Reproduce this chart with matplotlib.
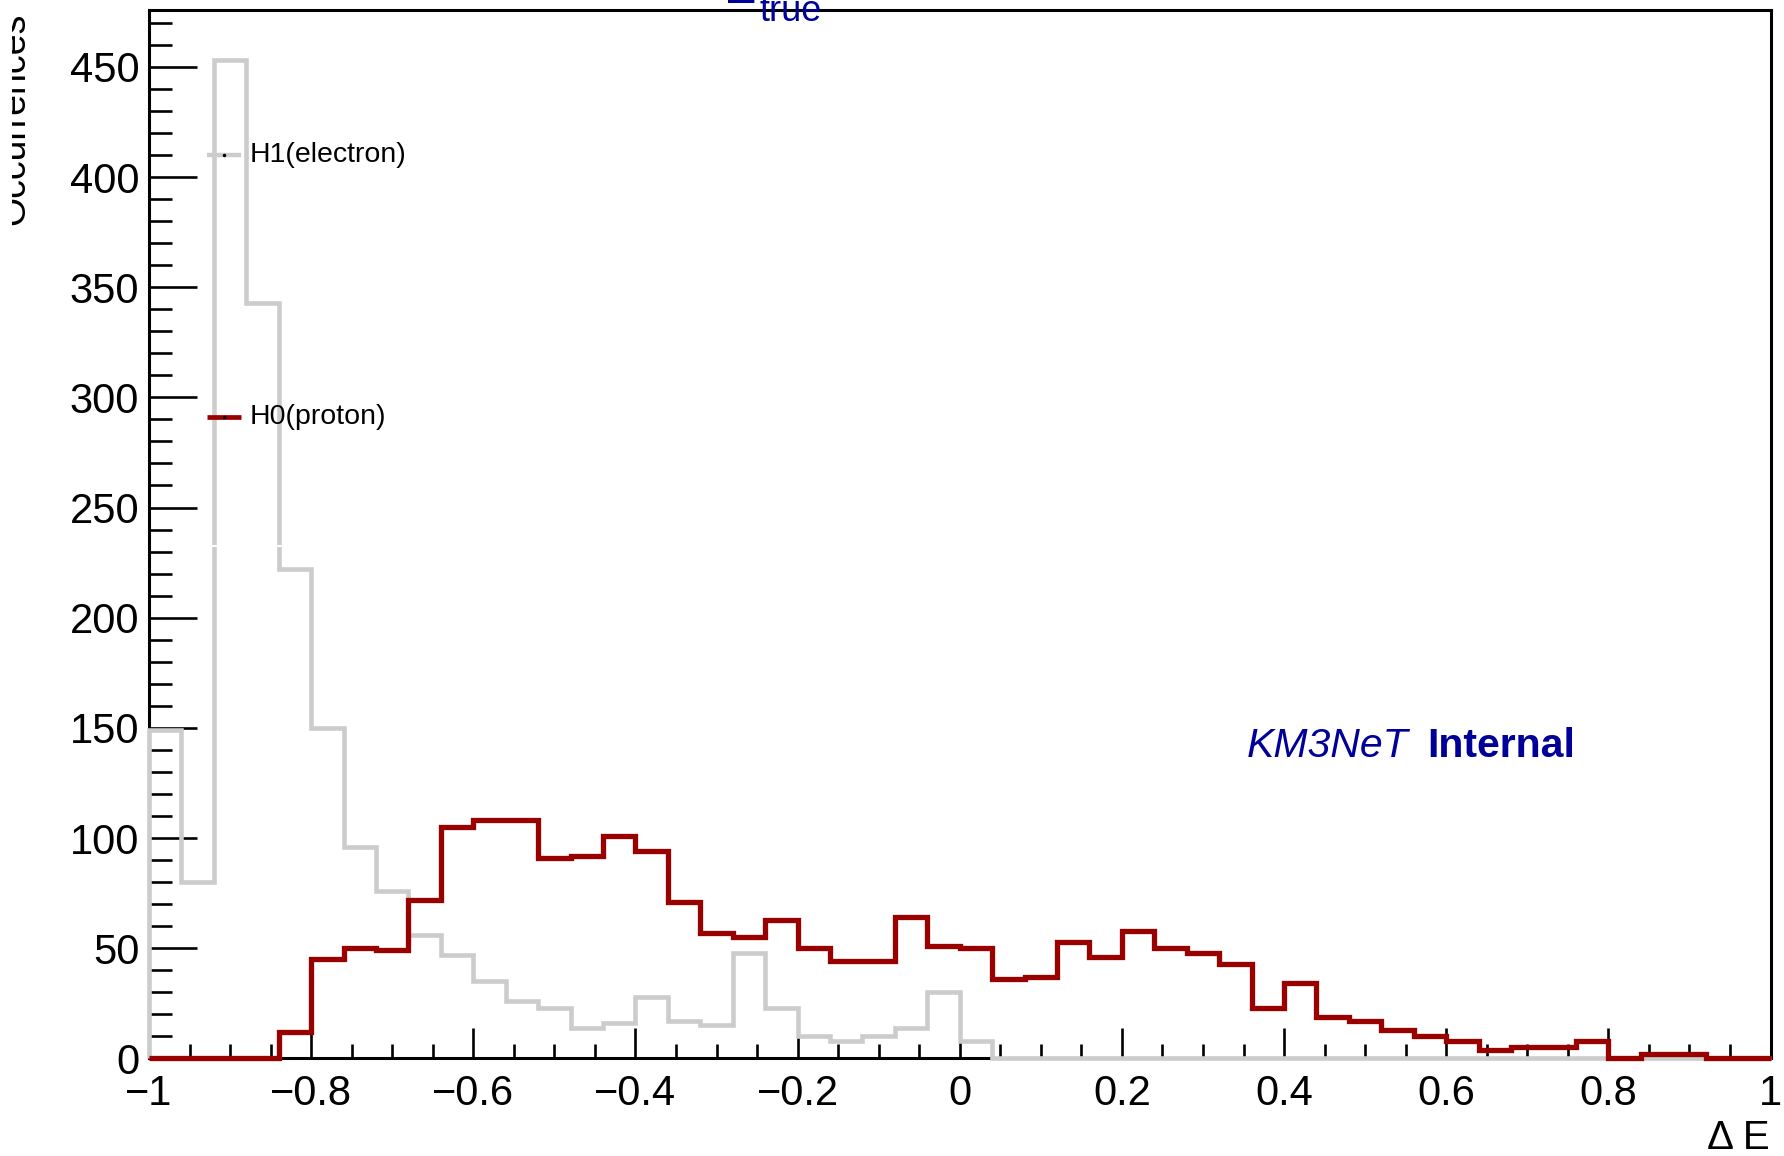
import matplotlib
matplotlib.use('Agg')
import matplotlib.pyplot as plt
import numpy as np
from matplotlib.ticker import MultipleLocator, FixedLocator, FixedFormatter
from matplotlib.patches import Rectangle

plt.rcParams['font.family'] = ['Liberation Sans', 'DejaVu Sans']

# ---------------- data ----------------
x_min, x_max, n_bins = -1.0, 1.0, 50

electron_counts = [149, 80, 453, 343, 222, 150, 96, 76, 56, 47,
                   35, 26, 23, 14, 16, 28, 17, 15, 48, 23,
                   10, 8, 10, 14, 30, 8, 0, 0, 0, 0,
                   0, 0, 0, 0, 0, 0, 0, 0, 0, 0,
                   0, 0, 0, 0, 0, 0, 0, 0, 0, 0]

proton_counts = [0, 0, 0, 0, 12, 45, 50, 49, 72, 105,
                 108, 108, 91, 92, 101, 94, 71, 57, 55, 63,
                 50, 44, 44, 64, 51, 50, 36, 37, 53, 46,
                 58, 50, 48, 43, 23, 34, 19, 17, 13, 10,
                 8, 4, 5, 5, 8, 0, 2, 2, 0, 0]

x_ticks = [-1, -0.8, -0.6, -0.4, -0.2, 0, 0.2, 0.4, 0.6, 0.8, 1]
x_tick_labels = ['\u22121', '\u22120.8', '\u22120.6', '\u22120.4', '\u22120.2',
                 '0', '0.2', '0.4', '0.6', '0.8', '1']
y_ticks = [0, 50, 100, 150, 200, 250, 300, 350, 400, 450]
y_max = 475.7

label_electron = 'H1(electron)'
label_proton = 'H0(proton)'

# ---------------- style ----------------
W, H = 1784, 1156
gray = '#cccccc'
red = '#990000'
blue = '#000099'

fig = plt.figure(figsize=(W / 100, H / 100), dpi=100)
left, right, bottom, top = 149, 1770.5, 1058.4, 10.2
ax = fig.add_axes([left / W, (H - bottom) / H, (right - left) / W, (bottom - top) / H])

edges = np.linspace(x_min, x_max, n_bins + 1)
ax.stairs(electron_counts, edges, color=gray, lw=3.3, zorder=3, clip_on=False)
ax.stairs(proton_counts, edges, color=red, lw=3.8, zorder=4, clip_on=False)

ax.set_xlim(x_min, x_max)
ax.set_ylim(0, y_max)

ax.xaxis.set_major_locator(FixedLocator(x_ticks))
ax.xaxis.set_major_formatter(FixedFormatter(x_tick_labels))
ax.xaxis.set_minor_locator(MultipleLocator(0.05))
ax.yaxis.set_major_locator(FixedLocator(y_ticks))
ax.yaxis.set_minor_locator(MultipleLocator(10))

ax.tick_params(axis='y', which='major', direction='in', length=34.5, width=1.9,
               labelsize=30, pad=7)
ax.tick_params(axis='y', which='minor', direction='in', length=16.5, width=1.9)
ax.tick_params(axis='x', which='major', direction='in', length=21.6, width=1.9,
               labelsize=30, pad=11)
ax.tick_params(axis='x', which='minor', direction='in', length=10, width=1.9)
for s in ax.spines.values():
    s.set_linewidth(2.2)

# legend-like entries
ax.plot([-0.928, -0.886], [410, 410], color=gray, lw=3.2, zorder=5, solid_capstyle='butt')
ax.plot([-0.9075], [410], marker='o', color='k', ms=1.5, zorder=6)
ax.text(-0.8754, 410, label_electron, va='center', ha='left', fontsize=20.5, zorder=6)
ax.plot([-0.928, -0.886], [291.3, 291.3], color=red, lw=3.4, zorder=5, solid_capstyle='butt')
ax.plot([-0.9075], [291.3], marker='o', color='k', ms=1.5, zorder=6)
ax.text(-0.8754, 291.3, label_proton, va='center', ha='left', fontsize=20.5, zorder=6)
# legend box bottom edge (white) interrupting the gray outline
ax.plot([-0.97, -0.55], [232.4, 232.4], color='white', lw=1.4, zorder=5)

# KM3NeT Internal
ax.text(0.354, 136.8, 'KM3NeT', style='italic', fontsize=29.5, color=blue,
        va='baseline', ha='left')
ax.text(0.577, 136.8, 'Internal', weight='bold', fontsize=29.5, color=blue,
        va='baseline', ha='left')

# x-axis title
fig.text(1770 / W, 7 / H, '\u0394 E', ha='right', va='baseline', fontsize=29)

# y-axis title (mostly cut off at the left edge of the canvas)
fig.text(24 / W, 1 - 13 / H, 'Occurrences', rotation=90, rotation_mode='anchor',
         ha='right', va='baseline', fontsize=27)
fig.add_artist(Rectangle((0, 0), 12 / W, 1, transform=fig.transFigure,
                         facecolor='white', edgecolor='none', zorder=10))

# title remnant at top (E_true, cut off)
fig.text(724 / W, 1 - 3 / H, 'E', ha='left', va='baseline', fontsize=35, color=blue)
fig.text(759 / W, 1 - 21 / H, 'true', ha='left', va='baseline', fontsize=26, color=blue)

fig.savefig('out.png', dpi=100)
